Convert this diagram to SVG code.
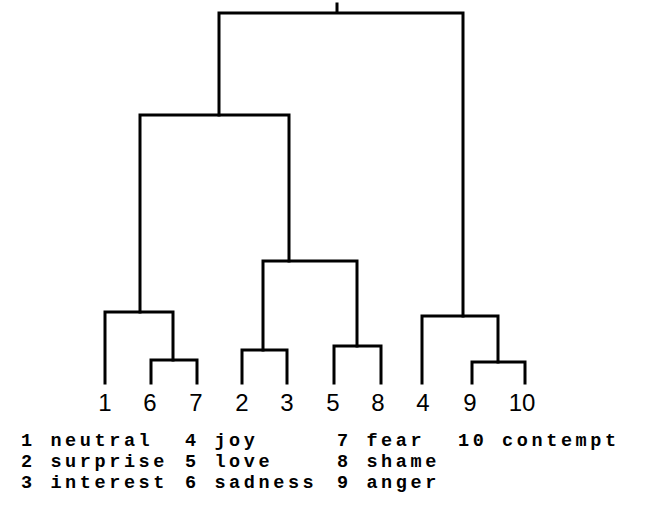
<svg xmlns="http://www.w3.org/2000/svg" width="671" height="507" viewBox="0 0 671 507">
<style>
.ln{fill:none;stroke:#000;stroke-width:3;stroke-linecap:square;stroke-linejoin:miter}
.leaf{font-family:"Liberation Sans","DejaVu Sans",sans-serif;font-size:24px;fill:#000;text-anchor:middle}
.lg{font-family:"Liberation Mono","DejaVu Sans Mono",monospace;font-size:18.5px;letter-spacing:3.6px;font-weight:bold;fill:#000}
</style>
<rect width="671" height="507" fill="#fff"/>
<g id="connectors">
<path class="ln" d="M337,4 V13 M219,115 V13 H463 V316"/>
<path class="ln" d="M140,312 V115 H289 V261"/>
<path class="ln" d="M105,383 V312 H173 V360"/>
<path class="ln" d="M151,383 V360 H197 V383"/>
<path class="ln" d="M263,350 V261 H357 V346"/>
<path class="ln" d="M242,383 V350 H287 V383"/>
<path class="ln" d="M334,383 V346 H381 V383"/>
<path class="ln" d="M422,383 V316 H498 V362"/>
<path class="ln" d="M472,383 V362 H525 V383"/>
</g>
<g id="leaf-1"><text class="leaf" x="105" y="411">1</text></g>
<g id="leaf-6"><text class="leaf" x="150" y="411">6</text></g>
<g id="leaf-7"><text class="leaf" x="196" y="411">7</text></g>
<g id="leaf-2"><text class="leaf" x="242" y="411">2</text></g>
<g id="leaf-3"><text class="leaf" x="287" y="411">3</text></g>
<g id="leaf-5"><text class="leaf" x="333" y="411">5</text></g>
<g id="leaf-8"><text class="leaf" x="378" y="411">8</text></g>
<g id="leaf-4"><text class="leaf" x="423" y="411">4</text></g>
<g id="leaf-9"><text class="leaf" x="470" y="411">9</text></g>
<g id="leaf-10"><text class="leaf" x="522" y="411">10</text></g>
<g id="legend">
<text class="lg" x="21" y="446">1 neutral</text>
<text class="lg" x="185" y="446">4 joy</text>
<text class="lg" x="337" y="446">7 fear</text>
<text class="lg" x="458" y="446">10 contempt</text>
<text class="lg" x="21" y="467">2 surprise</text>
<text class="lg" x="185" y="467">5 love</text>
<text class="lg" x="337" y="467">8 shame</text>
<text class="lg" x="21" y="488">3 interest</text>
<text class="lg" x="185" y="488">6 sadness</text>
<text class="lg" x="337" y="488">9 anger</text>
</g>
</svg>
